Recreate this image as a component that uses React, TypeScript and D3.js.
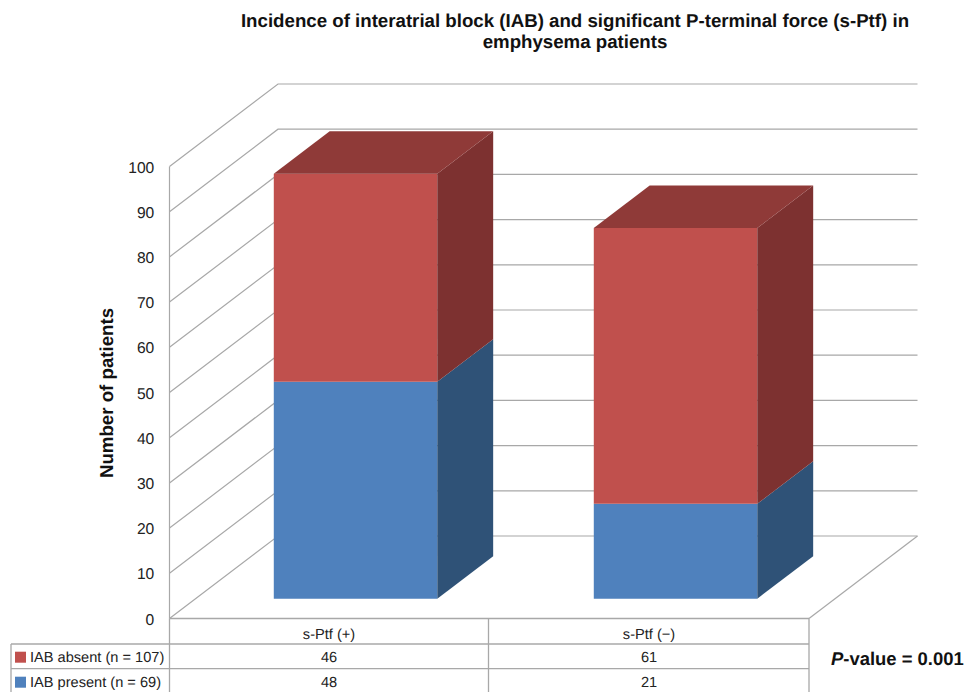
import React from "react";
import * as d3 from "d3";

const categories = ["s-Ptf (+)", "s-Ptf (−)"];
const seriesNames = ["IAB present (n = 69)", "IAB absent (n = 107)"];
const iabPresent = [48, 21];
const iabAbsent = [46, 61];
const yTicks = [0, 10, 20, 30, 40, 50, 60, 70, 80, 90, 100];
const titleLines = [
  "Incidence of interatrial block (IAB) and significant P-terminal force (s-Ptf) in",
  "emphysema patients",
];
const yTitle = "Number of patients";

const FONT = "'Liberation Sans', Arial, sans-serif";
const GRID = "#a8a8a8";
const FRONT = ["#4F81BD", "#C0504D"];
const SIDE = ["#2F5277", "#7D3130"];
const TOP = ["#3A6596", "#8F3A38"];

const x0 = 169.5, x1 = 809.5, yBase = 618.5, yTop = 166.5;
const depthX = 108.5, depthY = 82.5;
const barZ0 = 0.24, barZ1 = 0.755;

export default function App() {
  const y = d3.scaleLinear().domain([0, 100]).range([yBase, yTop]);
  const x = d3.scaleBand<string>().domain(categories).range([x0, x1]).paddingInner(0).paddingOuter(0);
  const z = d3.scaleLinear().domain([0, 1]);
  const zx = z.copy().range([0, depthX]);
  const zy = z.copy().range([0, depthY]);
  const barW = 163.5;
  const axisEnd = x1 - 0.5;

  const rows = categories.map((c, i) => ({ c, present: iabPresent[i], absent: iabAbsent[i] }));
  const stack = d3.stack<any>().keys(["present", "absent"])(rows);
  const line = d3.line();

  const P = (px: number, v: number, t: number): [number, number] => [px + zx(t), y(v) - zy(t)];
  const poly = (pts: [number, number][]) => line(pts)! + "Z";

  const tRows = [644, 668.7];
  const tMid = [634, 657, 682];
  const xTableLeft = 11;
  const divider = x(categories[1])! - 1;

  return (
    <svg width={964} height={692} viewBox="0 0 964 692" textRendering="geometricPrecision"
      style={{ position: "absolute", left: 0, top: 0, display: "block", background: "#fff" }} fontFamily={FONT}>
      <g textAnchor="middle" fontWeight="bold" fontSize={18.68} fill="#111">
        {titleLines.map((t, i) => (
          <text key={t} x={575} y={27 + i * 21}>{t}</text>
        ))}
      </g>

      {/* walls */}
      <g fill="none" stroke={GRID} strokeWidth={1.2}>
        {yTicks.map((v) => (
          <path key={v} d={line([P(x0, v, 0), P(x0, v, 1), P(axisEnd, v, 1)])!} />
        ))}
        <path d={line([P(x0, 100, 0), P(x0, 0, 0)])!} />
        <path d={line([P(axisEnd, 0, 0), P(axisEnd, 0, 1)])!} />
      </g>

      {/* bars */}
      {categories.map((c, i) => {
        const cx = x(c)! + x.bandwidth() / 2;
        const l = cx - barW / 2, r = cx + barW / 2;
        return (
          <g key={c}>
            {stack.map((s, k) => {
              const [a, b] = s[i];
              const fl = (v: number) => P(l, v, barZ0);
              const fr = (v: number) => P(r, v, barZ0);
              const bl = (v: number) => P(l, v, barZ1);
              const br = (v: number) => P(r, v, barZ1);
              return (
                <g key={k}>
                  <path d={poly([fl(a), fr(a), fr(b), fl(b)])} fill={FRONT[k]} />
                  <path d={poly([fr(a), br(a), br(b), fr(b)])} fill={SIDE[k]} />
                  {k === stack.length - 1 && (
                    <path d={poly([fl(b), fr(b), br(b), bl(b)])} fill={TOP[k]} />
                  )}
                </g>
              );
            })}
          </g>
        );
      })}

      {/* y axis labels */}
      <g textAnchor="end" fontSize={15.6} fill="#222">
        {yTicks.map((v) => (
          <text key={v} x={154.3} y={y(v) + 6}>{v}</text>
        ))}
      </g>
      <text transform="translate(113,393) rotate(-90)" textAnchor="middle" fontWeight="bold" fontSize={18.68} fill="#111">
        {yTitle}
      </text>

      {/* data table */}
      <g stroke={GRID} strokeWidth={1.3} fill="none">
        <path d={line([[x0, yBase], [x0, 692]])!} />
        <path d={line([[divider, yBase], [divider, 692]])!} />
        <path d={line([[axisEnd, yBase], [axisEnd, 692]])!} />
        <path d={line([[xTableLeft, tRows[0]], [xTableLeft, 692]])!} />
        <path d={line([[x0, yBase], [axisEnd, yBase]])!} />
        {tRows.map((t) => (
          <path key={t} d={line([[xTableLeft, t], [axisEnd, t]])!} />
        ))}
      </g>
      <g textAnchor="middle" fontSize={14.6} fill="#222">
        {categories.map((c, i) => {
          const cx = x(c)! + x.bandwidth() / 2 - 0.5;
          return (
            <g key={c}>
              <text x={cx} y={tMid[0] + 5}>{c}</text>
              <text x={cx} y={tMid[1] + 5}>{iabAbsent[i]}</text>
              <text x={cx} y={tMid[2] + 5}>{iabPresent[i]}</text>
            </g>
          );
        })}
      </g>
      {[1, 0].map((k, row) => (
        <g key={k}>
          <rect x={15} y={tMid[row + 1] - 5.3} width={11} height={11} fill={FRONT[k]} />
          <text x={30} y={tMid[row + 1] + 5} fontSize={14.6} fill="#222">{seriesNames[k]}</text>
        </g>
      ))}

      <text x={831} y={665} fontSize={18.45} fontWeight="bold" fill="#111">
        <tspan fontStyle="italic">P</tspan>-value = 0.001
      </text>
    </svg>
  );
}
